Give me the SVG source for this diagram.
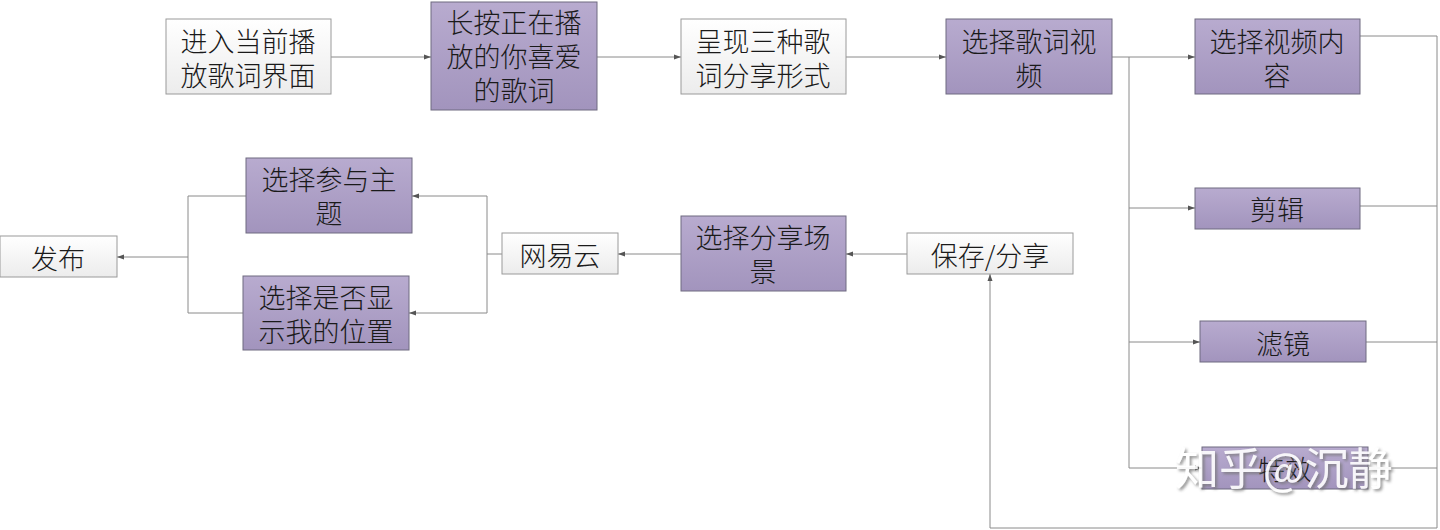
<svg xmlns="http://www.w3.org/2000/svg" width="1440" height="530" viewBox="0 0 1440 530">
<style>
.w{fill:url(#gw);stroke:#9a9a9a;stroke-width:1}
.p{fill:url(#gp);stroke:#6f6a80;stroke-width:1}
.t{font-family:"Noto Sans CJK SC","Noto Sans",sans-serif;font-size:27px;font-weight:300;fill:#1a1a1a;text-anchor:middle;dominant-baseline:central}
.c{fill:none;stroke:#8a8a8a;stroke-width:1}
.a{marker-end:url(#ar)}
.wm{font-family:"Noto Sans CJK SC","Noto Sans",sans-serif;font-size:44px;fill:#ffffff;filter:url(#sh);opacity:0.9}
</style>
<defs>
<linearGradient id="gw" x1="0" y1="0" x2="0" y2="1"><stop offset="0" stop-color="#ffffff"/><stop offset="1" stop-color="#ececec"/></linearGradient>
<linearGradient id="gp" x1="0" y1="0" x2="0" y2="1"><stop offset="0" stop-color="#b8abcf"/><stop offset="1" stop-color="#a294bd"/></linearGradient>
<marker id="ar" markerWidth="7" markerHeight="6" refX="7" refY="3" orient="auto" markerUnits="userSpaceOnUse"><path d="M0,0.5 L7,3 L0,5.5 Z" fill="#555"/></marker>
<filter id="sh" x="-10%" y="-20%" width="130%" height="150%"><feDropShadow dx="2" dy="2" stdDeviation="1.5" flood-color="#777" flood-opacity="0.9"/></filter>
</defs>
<rect width="1440" height="530" fill="#ffffff"/>
<g id="connectors">
<path class="c a" d="M331,57 H431"/>
<path class="c a" d="M597,57 H681"/>
<path class="c a" d="M846,57 H946"/>
<path class="c" d="M1112,57 H1129 V468"/>
<path class="c a" d="M1129,57 H1195"/>
<path class="c a" d="M1129,208 H1195"/>
<path class="c a" d="M1129,342 H1200"/>
<path class="c a" d="M1129,468 H1202"/>
<path class="c" d="M1360,36 H1437 V528 H990"/>
<path class="c" d="M1360,206 H1437"/>
<path class="c" d="M1366,342 H1437"/>
<path class="c" d="M1368,468 H1437"/>
<path class="c a" d="M990,528 V274"/>
<path class="c a" d="M907,254 H846"/>
<path class="c a" d="M681,254 H618"/>
<path class="c" d="M502,254 H487 V196 M487,254 V313"/>
<path class="c a" d="M487,196 H412"/>
<path class="c a" d="M487,313 H409"/>
<path class="c" d="M246,196 H188 V313 H243"/>
<path class="c a" d="M188,257 H117"/>
</g>
<g id="n1"><rect class="w" x="166" y="19" width="165" height="75"/><text class="t"><tspan x="248" y="40">进入当前播</tspan><tspan x="248" y="74">放歌词界面</tspan></text></g>
<g id="n2"><rect class="p" x="431" y="2" width="166" height="108"/><text class="t"><tspan x="514" y="21">长按正在播</tspan><tspan x="514" y="55">放的你喜爱</tspan><tspan x="514" y="89">的歌词</tspan></text></g>
<g id="n3"><rect class="w" x="681" y="19" width="165" height="75"/><text class="t"><tspan x="763" y="40">呈现三种歌</tspan><tspan x="763" y="74">词分享形式</tspan></text></g>
<g id="n4"><rect class="p" x="946" y="19" width="166" height="75"/><text class="t"><tspan x="1029" y="40">选择歌词视</tspan><tspan x="1029" y="74">频</tspan></text></g>
<g id="n5"><rect class="p" x="1195" y="19" width="165" height="75"/><text class="t"><tspan x="1277" y="40">选择视频内</tspan><tspan x="1277" y="74">容</tspan></text></g>
<g id="n6"><rect class="p" x="1195" y="188" width="165" height="41"/><text class="t" x="1277" y="208">剪辑</text></g>
<g id="n7"><rect class="p" x="1200" y="321" width="166" height="41"/><text class="t" x="1283" y="342">滤镜</text></g>
<g id="n8"><rect class="p" x="1202" y="447" width="166" height="42"/><text class="t" x="1285" y="468">特效</text></g>
<g id="n9"><rect class="w" x="907" y="233" width="166" height="41"/><text class="t" x="990" y="254">保存/分享</text></g>
<g id="n10"><rect class="p" x="681" y="216" width="165" height="75"/><text class="t"><tspan x="763" y="236">选择分享场</tspan><tspan x="763" y="270">景</tspan></text></g>
<g id="n11"><rect class="w" x="502" y="233" width="116" height="41"/><text class="t" x="560" y="254">网易云</text></g>
<g id="n12"><rect class="p" x="246" y="158" width="166" height="75"/><text class="t"><tspan x="329" y="178">选择参与主</tspan><tspan x="329" y="212">题</tspan></text></g>
<g id="n13"><rect class="p" x="243" y="276" width="166" height="74"/><text class="t"><tspan x="326" y="296">选择是否显</tspan><tspan x="326" y="330">示我的位置</tspan></text></g>
<g id="n14"><rect class="w" x="0" y="236" width="117" height="41"/><text class="t" x="58" y="257">发布</text></g>
<text class="wm" x="1175" y="485">知乎@沉静</text>
</svg>
